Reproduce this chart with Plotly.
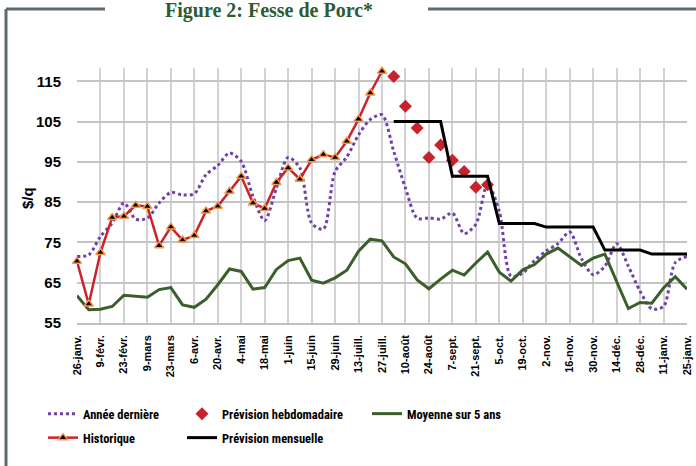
import plotly.graph_objects as go

weeks = ["26-janv.", "2-févr.", "9-févr.", "16-févr.", "23-févr.", "2-mars", "9-mars", "16-mars",
         "23-mars", "30-mars", "6-avr.", "13-avr.", "20-avr.", "27-avr.", "4-mai", "11-mai",
         "18-mai", "25-mai", "1-juin", "8-juin", "15-juin", "22-juin", "29-juin", "6-juill.",
         "13-juill.", "20-juill.", "27-juill.", "3-août", "10-août", "17-août", "24-août",
         "31-août", "7-sept.", "14-sept.", "21-sept.", "28-sept.", "5-oct.", "12-oct.",
         "19-oct.", "26-oct.", "2-nov.", "9-nov.", "16-nov.", "23-nov.", "30-nov.", "7-déc.",
         "14-déc.", "21-déc.", "28-déc.", "4-janv.", "11-janv.", "18-janv.", "25-janv."]

annee_derniere = [71.5, 71.9, 76.5, 79.8, 84.8, 80.8, 81.0, 84.8, 87.4, 86.8, 87.1, 91.8, 94.1,
                  97.2, 95.1, 86.4, 80.4, 88.5, 96.1, 93.5, 79.8, 78.3, 92.6, 96.2, 101.7, 105.5,
                  106.7, 97.6, 88.5, 81.0, 81.1, 80.8, 82.3, 77.2, 79.5, 89.5, 82.7, 66.6, 67.4,
                  70.5, 72.9, 74.7, 77.6, 71.0, 67.0, 69.1, 74.7, 69.1, 62.9, 58.5, 59.1, 70.0, 71.5]

historique = [70.3, 59.7, 72.5, 81.2, 81.5, 84.2, 83.9, 74.2, 78.8, 75.6, 76.7, 82.8, 84.0,
              87.7, 91.4, 84.8, 83.4, 89.9, 93.5, 90.7, 95.5, 96.8, 96.1, 100.1, 105.6, 112.1, 117.5]

prevision_hebdo = [116.2, 108.8, 103.4, 96.1, 99.2, 95.4, 92.6, 88.7, 89.3]

prevision_mensuelle = [105.0] * 5 + [91.4] * 4 + [79.7] * 4 + [78.8] * 5 + [73.1] * 4 + [72.1] * 4

moyenne_5ans = [61.8, 58.3, 58.4, 59.1, 61.9, 61.6, 61.4, 63.3, 63.8, 59.5, 58.9, 60.9, 64.5,
                68.4, 67.8, 63.4, 63.8, 68.3, 70.5, 71.1, 65.6, 64.9, 66.2, 68.1, 72.8, 75.8,
                75.4, 71.4, 69.7, 65.7, 63.5, 65.9, 68.1, 66.9, 69.9, 72.6, 67.6, 65.4, 68.2,
                69.5, 72.1, 73.6, 71.5, 69.3, 71.1, 72.1, 65.3, 58.6, 60.1, 59.9, 63.7, 66.5, 63.4]

y_ticks = [55, 65, 75, 85, 95, 105, 115]

W, H = 696, 466
L, R, T, B = 77, 9, 68, 143
PW, PH = W - L - R, H - T - B


def px(x):
    return (x - L) / PW


def py(y):
    return (H - B - y) / PH


n_hist = len(historique)
n_hebdo = len(prevision_hebdo)
x_hist = weeks[:n_hist]
x_hebdo = weeks[n_hist:n_hist + n_hebdo]
x_mens = weeks[n_hist:n_hist + len(prevision_mensuelle)]

fig = go.Figure()

fig.add_trace(go.Scatter(
    x=weeks, y=annee_derniere, mode="lines", name="Année dernière",
    line=dict(color="#7040A8", width=3, dash="dot", shape="spline", smoothing=0.8),
    legend="legend"))
fig.add_trace(go.Scatter(
    x=x_hebdo, y=prevision_hebdo, mode="markers", name="Prévision hebdomadaire",
    marker=dict(symbol="diamond", size=10, color="#C8232C"), cliponaxis=False,
    legend="legend2"))
fig.add_trace(go.Scatter(
    x=weeks, y=moyenne_5ans, mode="lines", name="Moyenne sur 5 ans",
    line=dict(color="#3B5E2B", width=3), legend="legend3"))
fig.add_trace(go.Scatter(
    x=x_hist, y=historique, mode="lines+markers", name="Historique",
    line=dict(color="#CC2229", width=2.5),
    marker=dict(symbol="triangle-up", size=8, color="black",
                line=dict(color="#F79646", width=1.5)),
    cliponaxis=False, legend="legend4"))
fig.add_trace(go.Scatter(
    x=x_mens, y=prevision_mensuelle, mode="lines", name="Prévision mensuelle",
    line=dict(color="black", width=3), legend="legend5"))

leg_font = dict(family="Liberation Sans Narrow, Roboto Condensed, Liberation Sans", size=12.5,
                color="black", weight="bold")


def leg(xp, yp):
    return dict(x=px(xp), y=py(yp), xanchor="left", yanchor="middle", orientation="h",
                bgcolor="rgba(0,0,0,0)", font=leg_font, borderwidth=0)


fig.update_layout(
    width=W, height=H,
    margin=dict(l=L, r=R, t=T, b=B, autoexpand=False),
    plot_bgcolor="white", paper_bgcolor="white",
    legend=leg(43, 414),
    legend2=leg(182, 414),
    legend3=leg(367, 414),
    legend4=leg(43, 438),
    legend5=leg(182, 438),
    xaxis=dict(
        type="category", range=[0, len(weeks) - 1],
        tickmode="array", tickvals=weeks[::2], ticktext=weeks[::2],
        tickangle=-90, tickfont=dict(family="Liberation Sans", size=11, color="black", weight="bold"),
        showgrid=True, gridcolor="#D2D2D2", gridwidth=2,
        showline=True, linecolor="#C0C0C0", linewidth=1.5,
        ticks="", ticklabelstandoff=6, zeroline=False),
    yaxis=dict(
        range=[55, 118.3], tickmode="array", tickvals=y_ticks,
        tickfont=dict(family="Liberation Sans", size=15, color="black", weight="bold"),
        showgrid=True, gridcolor="#C4C4C4", gridwidth=1.5,
        showline=False, ticks="", ticklabelstandoff=15, zeroline=False),
    showlegend=True,
)

fig.add_annotation(
    text="Figure 2: Fesse de Porc*", xref="paper", yref="paper",
    x=px(269), y=py(11), xanchor="center", yanchor="middle", showarrow=False,
    font=dict(family="Liberation Serif", size=20, color="#2E5B30", weight="bold"))

fig.add_annotation(
    text="$/q", xref="paper", yref="paper", x=px(27), y=py(198),
    xanchor="center", yanchor="middle", textangle=-90, showarrow=False,
    font=dict(family="Liberation Sans", size=15, color="black", weight="bold"))

frame = dict(color="#5F6B73", width=3)
fig.add_shape(type="line", xref="paper", yref="paper", x0=px(6), x1=px(6), y0=py(9), y1=py(470), line=frame)
fig.add_shape(type="line", xref="paper", yref="paper", x0=px(6), x1=px(105), y0=py(9), y1=py(9), line=frame)
fig.add_shape(type="line", xref="paper", yref="paper", x0=px(428), x1=px(700), y0=py(9), y1=py(9), line=frame)

fig.write_html("out.html",
               config={"displayModeBar": False},
               post_script="document.body.style.margin='0';document.body.style.padding='0';"
                           "document.body.style.overflow='hidden';")
